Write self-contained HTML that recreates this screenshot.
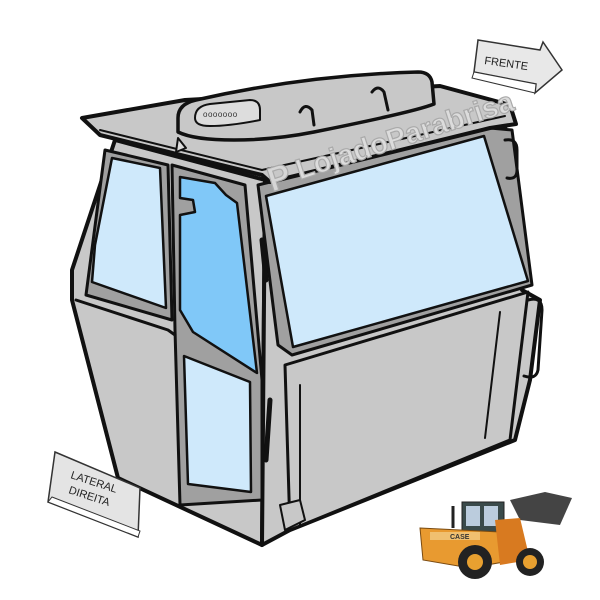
<!DOCTYPE html>
<html><head><meta charset="utf-8"><style>
html,body{margin:0;padding:0;background:#fff;width:600px;height:600px;overflow:hidden}
svg{display:block}
text{font-family:"Liberation Sans",sans-serif}
</style></head><body>
<svg width="600" height="600" viewBox="0 0 600 600" xmlns="http://www.w3.org/2000/svg">
<g stroke="#111" stroke-linejoin="round" stroke-linecap="round">
<polygon points="115,140 265,180 262,545 118,478 72,300 72,270" fill="#c8c8c8" stroke-width="4"/>
<polygon points="265,180 505,125 522,290 540,300 530,380 515,440 290,530 262,545" fill="#c8c8c8" stroke-width="4"/>
<polygon points="105,150 168,165 172,320 86,295" fill="#a0a0a0" stroke-width="3"/>
<polygon points="172,165 245,185 262,380 262,500 180,505 175,330" fill="#a0a0a0" stroke-width="3"/>
<polygon points="112,158 160,168 166,308 92,282 95,245" fill="#cfe9fb" stroke-width="2.5"/>
<polygon points="180,177 215,183 226,195 237,203 257,373 193,332 180,310 180,215 195,212 193,200 180,198" fill="#80c8f8" stroke-width="2.5"/>
<polygon points="184,356 250,382 251,492 188,484" fill="#cfe9fb" stroke-width="2.5"/>
<polygon points="258,185 490,128 512,130 532,285 292,355 278,345" fill="#a0a0a0" stroke-width="3"/>
<polygon points="266,196 484,136 528,281 293,347" fill="#cfe9fb" stroke-width="2.5"/>
<polygon points="285,365 528,292 510,440 290,530" fill="#c8c8c8" stroke-width="3"/>
<polyline points="300,385 300,525" fill="none" stroke-width="2"/>
<polyline points="500,312 485,438" fill="none" stroke-width="2"/>
<polyline points="76,300 168,330 175,335" fill="none" stroke-width="3"/>
<path d="M505,140 q12,-2 12,10 l0,20 q0,10 -10,8" fill="none" stroke-width="3"/>
<path d="M528,300 q14,-4 14,10 l-4,60 q-2,10 -14,6" fill="none" stroke-width="3"/>
<path d="M270,400 l-4,60" fill="none" stroke-width="5"/>
<path d="M262,240 l4,40" fill="none" stroke-width="5"/>
<polygon points="280,505 300,500 305,520 285,530" fill="#c8c8c8" stroke-width="2"/>
<polygon points="82,118 185,100 440,86 510,105 516,124 490,128 270,182 262,175 100,135" fill="#c8c8c8" stroke-width="4"/>
<polyline points="100,130 262,170 505,116" fill="none" stroke-width="2"/>
<path d="M178,132 l0,-14 q0,-14 18,-18 q110,-25 222,-28 q12,0 14,10 l2,22 q-20,8 -120,28 q-40,8 -80,8 q-40,0 -56,-8 z" fill="#c8c8c8" stroke-width="3.5"/>
<path d="M195,118 q0,-12 15,-14 l40,-4 q10,0 10,10 l0,10 q-30,6 -50,6 q-15,0 -15,-8z" fill="#ddd" stroke-width="2"/>
<text x="203" y="117" font-size="8" fill="#333" stroke="none" letter-spacing="0.5">ooooooo</text>
<path d="M300,112 q5,-10 12,-2 l2,15 M372,92 q6,-8 12,0 l4,18" fill="none" stroke-width="3"/>
<path d="M178,138 l8,10 l-10,4z" fill="#ddd" stroke-width="2"/>
</g>
<g transform="translate(272,192) rotate(-18)">
<text x="0" y="0" font-size="34" font-weight="bold" fill="#d6d6d6" stroke="#aaa" stroke-width="1.2">P</text>
<text x="30" y="-3" font-size="29" font-weight="bold" fill="#dcdcdc" stroke="#aaa" stroke-width="1.2">LojadoParabrisa</text>
</g>
<g>
<polygon points="478,40 540,50 543,42 562,70 535,93 536,84 474,72" fill="#e8e8e8" stroke="#333" stroke-width="1.5"/>
<polygon points="474,72 536,84 535,93 472,78" fill="#fff" stroke="#333" stroke-width="1"/>
<text x="484" y="64" font-size="11" fill="#222" transform="rotate(8 484 64)">FRENTE</text>
</g>
<g>
<polygon points="55,452 140,488 138,537 48,502" fill="#e4e4e4" stroke="#333" stroke-width="1.5"/>
<polygon points="48,502 138,537 140,531 52,497" fill="#fff" stroke="#333" stroke-width="1"/>
<text x="70" y="478" font-size="11" fill="#222" transform="rotate(18 70 478)">LATERAL</text>
<text x="68" y="493" font-size="11" fill="#222" transform="rotate(18 68 493)">DIREITA</text>
</g>
<g>
<rect x="462" y="502" width="42" height="32" fill="#3a4a4a" stroke="#222"/>
<rect x="466" y="506" width="14" height="20" fill="#bcd"/>
<rect x="484" y="506" width="14" height="20" fill="#bcd"/>
<polygon points="510,500 545,492 572,498 560,525 520,520" fill="#444"/>
<polygon points="420,528 500,532 515,560 470,568 423,560" fill="#e89a30" stroke="#7a4a10"/>
<rect x="430" y="532" width="50" height="8" fill="#f0c070"/>
<text x="450" y="539" font-size="7" font-weight="bold" fill="#333">CASE</text>
<polygon points="495,520 520,518 530,560 500,565" fill="#d87a20"/>
<circle cx="475" cy="562" r="17" fill="#222"/><circle cx="475" cy="562" r="8" fill="#e8a030"/>
<circle cx="530" cy="562" r="14" fill="#222"/><circle cx="530" cy="562" r="7" fill="#e8a030"/>
<line x1="453" y1="506" x2="453" y2="528" stroke="#222" stroke-width="3"/>
</g>
</svg>
</body></html>
